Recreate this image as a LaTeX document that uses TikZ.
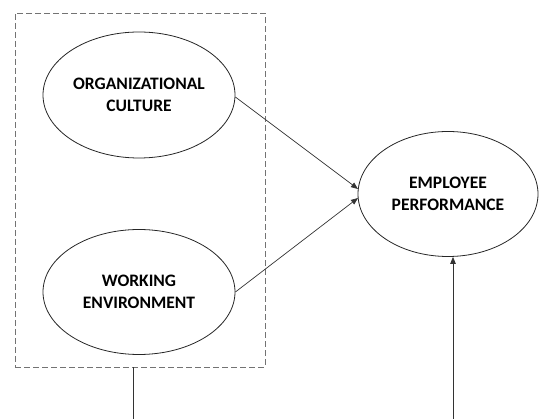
\documentclass[tikz,border=0pt]{standalone}
\usepackage{fontspec}
\setmainfont{Carlito}
\usetikzlibrary{shapes.geometric,arrows.meta}
\begin{document}
\begin{tikzpicture}[x=1pt,y=-1pt,
  oval/.style={ellipse,draw=black!85,line width=0.8pt,fill=white,minimum width=#1,inner sep=0pt,align=center,font=\fontsize{17.5}{22}\selectfont\bfseries},
  conn/.style={draw=black!80,line width=0.7pt},
  arr/.style={conn,-{Triangle[length=7pt,width=5.5pt]}}]
\useasboundingbox (0,0) rectangle (539,419);
\node[draw=black!55,dashed,line width=0.8pt,minimum width=250pt,minimum height=354pt,inner sep=0pt,dash pattern=on 6pt off 3pt] (box) at (140,190) {};
\node[oval=192pt,minimum height=126pt] (oc) at (139,95) {ORGANIZATIONAL\\CULTURE};
\node[oval=192pt,minimum height=125pt] (we) at (139,292) {WORKING\\ENVIRONMENT};
\node[oval=180pt,minimum height=125pt] (ep) at (448,194) {EMPLOYEE\\PERFORMANCE};
\coordinate (b1) at (133,419);
\coordinate (b2) at (453,419);
\draw[arr] (oc.east) ++(0,2) -- (358,189);
\draw[arr] (we.east) -- (358,198);
\draw[conn] (box.south -| b1) -- (b1);
\draw[arr] (b2) -- (b2 |- ep.south);
\end{tikzpicture}
\end{document}
